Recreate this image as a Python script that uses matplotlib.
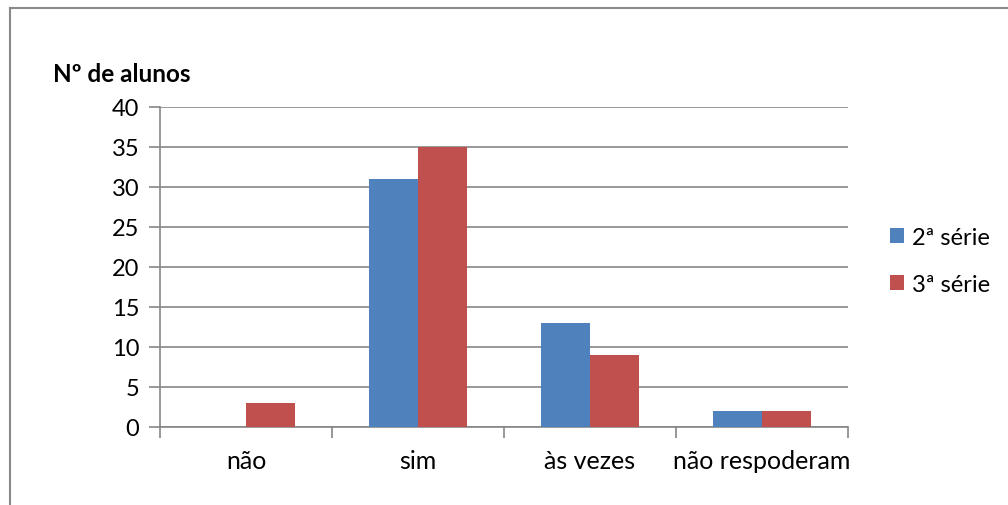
import numpy as np
import matplotlib
matplotlib.use("Agg")
import matplotlib.pyplot as plt
from matplotlib.lines import Line2D

categories = ["não", "sim", "às vezes", "não respoderam"]
serie2 = [0, 31, 13, 2]
serie3 = [3, 35, 9, 2]
series_names = ["2ª série", "3ª série"]
yticks = [0, 5, 10, 15, 20, 25, 30, 35, 40]

plt.rcParams['font.family'] = ['Lato', 'DejaVu Sans']

W, H = 1008, 506
fig = plt.figure(figsize=(W / 100, H / 100), dpi=100)
ax = fig.add_axes([160 / W, 1 - 428 / H, 688 / W, 320 / H])

grey = "#868686"
bw = 1 / 3.5
x = np.arange(len(categories))
ax.bar(x - bw / 2, serie2, bw, color="#4F81BD", label=series_names[0], zorder=3)
ax.bar(x + bw / 2, serie3, bw, color="#C0504D", label=series_names[1], zorder=3)

ax.set_xlim(-0.5, len(categories) - 0.5)
ax.set_ylim(0, 40)
ax.set_yticks(yticks)
ax.yaxis.grid(True, color=grey, linewidth=1.2, zorder=0)
ax.set_axisbelow(True)

for s in ["top", "right"]:
    ax.spines[s].set_visible(False)
for s in ["left", "bottom"]:
    ax.spines[s].set_color(grey)
    ax.spines[s].set_linewidth(1.2)

fs = 17
ax.set_xticks(np.arange(len(categories) + 1) - 0.5)
ax.set_xticklabels([])
ax.set_xticks(x, minor=True)
ax.set_xticklabels(categories, minor=True, fontsize=18)
ax.tick_params(axis="x", which="major", length=8, color=grey, width=1.2)
ax.tick_params(axis="x", which="minor", length=0, pad=16)
ax.tick_params(axis="y", length=8, color=grey, width=1.2, labelsize=fs, pad=7)

fig.text(53 / W, 1 - 74 / H, "Nº de alunos", fontsize=17.5, fontweight="bold",
         ha="left", va="center")

ax.legend(loc="center left", bbox_to_anchor=(890 / W, 1 - 262 / H),
          bbox_transform=fig.transFigure, frameon=False, fontsize=fs,
          borderpad=0, borderaxespad=0,
          handlelength=0.6, handleheight=0.6, handletextpad=0.35,
          labelspacing=1.1)

# outer chart border (cropped on right and bottom)
fig.add_artist(Line2D([10 / W, 10 / W], [0, 1 - 9 / H], color="#898989", lw=1.5,
                      transform=fig.transFigure))
fig.add_artist(Line2D([10 / W, 1], [1 - 9 / H, 1 - 9 / H], color="#898989", lw=1.5,
                      transform=fig.transFigure))

fig.savefig("out.png", dpi=100)
